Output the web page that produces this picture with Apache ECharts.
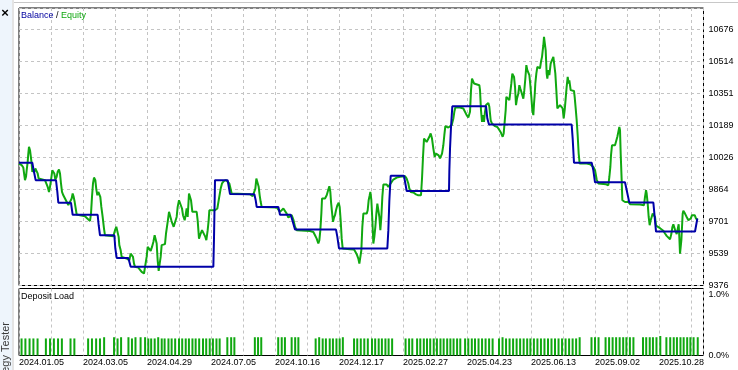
<!DOCTYPE html>
<html><head><meta charset="utf-8">
<script src="https://cdn.jsdelivr.net/npm/echarts@6/dist/echarts.min.js"></script>
<style>html,body{margin:0;padding:0;background:#fff}#c{width:738px;height:370px}</style>
</head><body><div id="c"></div>
<script>
// x = deal index, y = account value
const dateLabels = ['2024.01.05','2024.03.05','2024.04.29','2024.07.05','2024.10.16','2024.12.17','2025.02.27','2025.04.23','2025.06.13','2025.09.02','2025.10.28'];

const balance = [[0,9999],[4.16,9999],[4.48,9970],[4.79,9945],[5.2,9911],[11.56,9911],[11.98,9851],[12.29,9796],[16.25,9796],[16.77,9735],[24.58,9735],[24.9,9682],[25.31,9631],[29.79,9631],[30.1,9564],[30.52,9516],[34.17,9516],[34.9,9471],[60.73,9471],[60.94,9618],[61.25,9911],[65.2,9911],[65.94,9840],
[73.54,9839],[73.96,9809],[74.27,9775],[81.04,9775],[81.56,9735],[84.9,9735],[85.42,9707],[86.25,9660],[99.06,9660],[99.48,9623],[100.0,9564],[115.1,9564],[115.42,9657],[115.73,9806],[116.15,9933],[120.3,9933],[120.73,9894],[121.15,9856],[134.37,9856],[134.48,9958],[134.69,10071],[135.0,10181],[135.41,10286],[145.94,10286],[146.35,10224],[146.87,10193],[172.7,10193],[173.02,10122],[173.43,9999],[178.96,9999],[179.48,9961],[180.0,9900],[189.37,9900],[190.72,9797],[198.23,9797],[199.06,9650],[211.25,9650],[211.98,9716]];

const equity = [[0,9995],[0.83,9987],[1.35,9975],[1.56,9948],[1.87,9911],[2.19,9928],[2.39,9961],[2.71,10004],[2.91,10046],[3.12,10080],[3.44,10063],[3.64,10038],[3.96,9995],[4.16,9953],[4.48,9965],[4.79,9953],[5.10,9970],[5.52,9961],[5.83,9945],[6.14,9919],[6.56,9911],[8.12,9911],[8.64,9902],[8.96,9877],[9.37,9851],[9.69,9877],[10.00,9911],[10.41,9961],[10.73,9970],[11.04,9945],[11.35,9914],[11.77,9928],[12.08,9953],[12.50,9965],[12.81,9945],[13.12,9894],[13.44,9851],[13.85,9834],[14.89,9801],[15.41,9784],[15.94,9792],[16.46,9818],[16.77,9843],[17.08,9826],[17.39,9801],[17.81,9758],[18.02,9736],[19.06,9733],[20.62,9728],[21.35,9716],[22.19,9704],[22.50,9741],[22.81,9826],[23.12,9894],[23.44,9924],[23.85,9911],[24.17,9863],[24.48,9834],[24.79,9851],[25.10,9843],[25.41,9826],[25.73,9775],[26.14,9724],[26.56,9665],[26.87,9631],[29.48,9626],[30.00,9657],[30.41,9674],[30.83,9665],[31.14,9623],[31.35,9581],[31.77,9555],[32.08,9521],[33.64,9513],[34.48,9504],[34.89,9538],[35.31,9542],[35.62,9521],[35.94,9487],[36.25,9471],[37.29,9467],[38.33,9445],[39.06,9437],[39.58,9428],[39.89,9521],[40.21,9572],[40.62,9569],[41.15,9552],[41.56,9572],[41.98,9597],[42.39,9631],[42.71,9636],[43.02,9589],[43.33,9504],[43.65,9450],[43.96,9487],[44.27,9521],[44.58,9581],[45.10,9581],[45.62,9586],[45.94,9640],[46.46,9699],[46.88,9750],[47.29,9741],[47.60,9707],[47.92,9691],[48.33,9674],[48.85,9677],[49.27,9724],[49.58,9775],[50.00,9809],[50.42,9801],[50.94,9767],[51.25,9733],[51.77,9707],[52.08,9733],[52.39,9767],[52.71,9724],[53.12,9843],[53.44,9851],[53.75,9809],[54.17,9750],[54.69,9750],[55.52,9750],[55.83,9707],[56.25,9614],[56.77,9640],[57.19,9657],[57.50,9665],[57.81,9648],[58.23,9623],[58.54,9606],[58.96,9657],[59.27,9707],[59.48,9758],[60.21,9758],[60.73,9750],[61.25,9758],[61.77,9758],[61.98,9767],[62.50,9818],[63.02,9868],[63.44,9894],[64.06,9907],[64.69,9911],[65.21,9907],[65.73,9894],[66.46,9843],
[72.19,9839],[73.02,9829],[73.54,9826],[73.86,9868],[74.17,9919],[74.59,9911],[74.90,9877],[75.21,9834],[75.52,9801],[75.84,9775],[80.52,9772],[81.04,9767],[81.56,9750],[82.09,9758],[82.61,9767],[83.13,9762],[83.65,9741],[84.17,9721],[84.69,9724],[85.21,9733],[85.73,9711],[86.25,9674],[86.77,9657],[90.94,9653],[91.98,9648],[92.50,9631],[93.02,9614],[93.54,9589],[93.86,9606],[94.17,9657],[94.48,9741],[94.69,9818],[95.11,9826],[95.63,9818],[96.15,9834],[96.67,9863],[96.98,9880],[97.29,9851],[97.50,9801],[97.81,9750],[98.13,9699],[98.44,9721],[98.75,9733],[99.06,9758],[99.48,9784],[99.90,9796],[100.21,9775],[100.52,9707],[100.84,9614],[101.15,9564],[103.44,9560],[104.69,9559],[105.11,9547],[105.52,9535],[106.04,9513],[106.36,9487],[106.67,9496],[106.98,9555],[107.29,9674],[107.61,9741],[108.65,9741],[108.96,9758],[109.27,9809],[109.59,9834],[109.80,9851],[110.11,9809],[110.42,9707],[110.73,9589],[111.04,9623],[111.35,9674],[111.67,9741],[111.98,9792],[112.29,9758],[112.61,9724],[112.92,9657],[113.23,9724],[113.54,9826],[113.86,9889],[114.90,9889],[115.42,9877],[115.94,9885],[116.46,9902],[116.98,9914],[118.02,9924],
[119.06,9928],[120.62,9931],[121.14,9919],[121.66,9894],[121.98,9868],[122.39,9851],[123.23,9848],[124.06,9839],[124.79,9834],[125.31,9826],[125.62,9834],[125.94,9919],[126.25,10029],[126.56,10122],[126.98,10127],[127.39,10105],[127.81,10097],[128.23,10131],[128.64,10148],[129.06,10122],[129.48,10071],[129.89,10029],[130.31,10046],[130.73,10054],[131.14,10037],[131.56,10021],[131.87,10012],[132.19,10046],[132.60,10088],[132.91,10139],[133.23,10185],[133.64,10185],[134.16,10178],[134.69,10178],[135.21,10190],[135.73,10224],[136.04,10258],[136.35,10280],[137.81,10280],[138.85,10275],[139.37,10258],[139.89,10241],[140.41,10229],[140.94,10258],[141.25,10368],[141.56,10427],[141.87,10418],[142.19,10402],[142.50,10393],[143.85,10393],[144.06,10368],[144.37,10266],[144.69,10207],[145.00,10241],[145.31,10207],[145.62,10258],[145.94,10292],[146.25,10300],[146.66,10303],[146.98,10283],[147.39,10215],[147.81,10198],[148.75,10185],[149.48,10181],[150.00,10168],[150.62,10151],[151.14,10131],[151.46,10148],[151.77,10207],[152.08,10266],[152.29,10334],[152.71,10337],[153.23,10317],[153.54,10359],[153.85,10402],[154.16,10452],[154.48,10461],[154.69,10435],[155.00,10385],[155.31,10292],[155.62,10325],[156.04,10351],[156.35,10393],[156.66,10376],[156.98,10368],[157.29,10342],[157.60,10325],[157.91,10368],[158.23,10427],[158.54,10495],[158.85,10469],[159.16,10461],[159.48,10444],[159.79,10393],[160.10,10334],[160.41,10266],[160.73,10241],[160.94,10300],[161.14,10342],[161.35,10402],[161.66,10452],[161.98,10486],[162.60,10486],[162.81,10478],[163.12,10512],[163.44,10537],[163.64,10567],[163.85,10596],[164.06,10639],[164.37,10647],[164.58,10571],[164.89,10452],[165.10,10427],[165.41,10469],[165.73,10444],[166.14,10503],[166.46,10517],[166.98,10537],[167.29,10529],[167.60,10452],[167.91,10368],[168.23,10275],[168.64,10283],[169.06,10292],[169.58,10300],[169.89,10275],[170.21,10224],[170.52,10266],[170.83,10325],[171.14,10385],[171.46,10435],[171.77,10402],[171.98,10418],[172.39,10368],[173.43,10364],[173.64,10334],[173.96,10275],[174.27,10215],[174.58,10139],[174.89,10046],[175.21,9995],[177.39,9995],[178.44,9992],[179.06,9992],[179.48,9978],[180.00,9961],[180.52,9914],[181.04,9894],[183.44,9890],[184.17,9885],[184.48,9927],[184.79,9978],[185.00,10038],[185.31,10088],[186.25,10088],[186.77,10097],[186.98,10131],[187.29,10156],[187.60,10181],[187.81,10165],[188.02,10046],[188.33,9911],[188.54,9809],
[189.37,9800],[190.41,9800],[190.94,9789],[194.06,9787],[195.31,9784],[195.62,9826],[195.94,9860],[196.14,9843],[196.46,9792],[196.77,9724],[197.08,9682],[197.39,9707],[197.71,9724],[198.02,9741],[198.44,9750],[198.75,9724],[199.06,9680],[199.37,9671],[200.31,9667],[200.83,9662],[201.35,9654],[201.87,9640],[202.39,9628],[202.92,9620],[203.44,9611],[203.85,9637],[204.16,9671],[204.48,9687],[204.79,9679],[205.10,9654],[205.52,9637],[205.94,9671],[206.14,9687],[206.35,9620],[206.56,9538],[206.77,9530],[206.98,9606],[207.19,9674],[207.39,9741],[207.60,9755],[208.12,9741],[208.64,9724],[209.17,9707],[209.48,9699],[209.90,9716],[210.31,9733],[210.73,9741],[211.15,9733],[211.56,9716],[212.0,9712]];

// deposit load, percent, per deal index
const depositLoad = [[0.8,0.28],[2.0,0.28],[3.3,0.28],[4.5,0.28],[5.8,0.28],[8.4,0.28],[9.7,0.28],[10.9,0.28],[12.2,0.28],[13.4,0.28],[16.1,0.28],[17.3,0.28],[21.6,0.28],[22.8,0.28],[24.1,0.28],[25.3,0.28],[26.6,0.30],[29.7,0.30],[30.8,0.28],[31.9,0.30],[34.2,0.30],[35.3,0.28],[36.4,0.30],[38.0,0.30],[39.4,0.30],[40.4,0.28],[41.3,0.28],[42.4,0.28],[43.5,0.30],[44.6,0.28],[45.5,0.28],[46.7,0.28],[47.7,0.28],[48.8,0.28],[50.0,0.28],[51.0,0.28],[52.1,0.28],[53.1,0.28],[54.2,0.28],[55.2,0.28],[56.3,0.28],[57.5,0.28],[58.5,0.28],[59.6,0.28],[60.6,0.28],[61.7,0.28],[62.7,0.28],[65.1,0.30],[66.3,0.30],[67.3,0.30],[73.7,0.30],[74.7,0.30],[75.7,0.30],[81.0,0.30],[82.1,0.30],[83.1,0.30],[85.2,0.30],[86.3,0.30],[87.3,0.30],[92.7,0.28],[93.8,0.30],[94.9,0.28],[95.9,0.28],[97.1,0.28],[98.1,0.28],[99.2,0.28],[100.2,0.28],[101.2,0.30],[104.7,0.28],[105.7,0.28],[106.8,0.28],[107.9,0.28],[109.0,0.28],[110.3,0.28],[111.3,0.28],[112.4,0.28],[113.4,0.28],[114.5,0.28],[115.5,0.28],[116.6,0.28],[120.8,0.28],[121.9,0.28],[122.9,0.28],[124.4,0.28],[125.4,0.28],[126.5,0.28],[127.5,0.28],[128.5,0.28],[129.6,0.28],[130.6,0.28],[131.7,0.28],[132.7,0.28],[133.8,0.28],[134.8,0.28],[135.8,0.28],[136.9,0.28],[137.9,0.28],[139.4,0.28],[140.4,0.28],[141.5,0.28],[142.5,0.28],[143.6,0.28],[144.7,0.28],[145.8,0.28],[146.9,0.28],[148.0,0.28],[150.0,0.28],[151.1,0.30],[152.2,0.28],[153.3,0.28],[154.4,0.28],[155.5,0.28],[156.6,0.28],[157.7,0.28],[158.8,0.28],[159.8,0.28],[160.9,0.28],[162.0,0.28],[163.1,0.28],[164.2,0.28],[165.3,0.28],[166.4,0.28],[167.5,0.28],[168.6,0.28],[169.7,0.28],[170.8,0.28],[171.9,0.28],[173.0,0.28],[174.1,0.28],[175.2,0.30],[178.9,0.30],[180.0,0.30],[181.1,0.30],[183.3,0.30],[184.4,0.30],[185.5,0.30],[186.6,0.30],[187.7,0.30],[188.8,0.30],[189.8,0.30],[190.9,0.30],[192.0,0.30],[195.0,0.30],[196.0,0.30],[197.1,0.30],[198.1,0.30],[199.2,0.30],[200.4,0.32],[202.3,0.30],[203.5,0.30],[204.6,0.30],[205.6,0.30],[206.7,0.30],[207.7,0.30],[208.8,0.30],[209.8,0.30],[210.8,0.30],[212.1,0.30]];

const F = 'Liberation Sans';
const X_MAX = 213.9;
const gridDash = {show:true, lineStyle:{color:'#c4c4c4', width:1, type:[3,3]}};
const chart = echarts.init(document.getElementById('c'));
chart.setOption({
  animation:false,
  backgroundColor:'#ffffff',
  title:[
    {text:'{b|Balance} / {e|Equity}', left:21, top:11.5, padding:0,
     textStyle:{fontFamily:F, fontSize:9, fontWeight:'normal', color:'#000',
       rich:{b:{color:'#0000a0', fontFamily:F, fontSize:9}, e:{color:'#10a810', fontFamily:F, fontSize:9}}}},
    {text:'Deposit Load', left:21, top:292, padding:0,
     textStyle:{fontFamily:F, fontSize:9, fontWeight:'normal', color:'#000'}}
  ],
  grid:[
    {left:19, top:8, width:684.5, height:277.5, show:true, borderColor:'#000', borderWidth:1},
    {left:19, top:288.5, width:684.5, height:67, show:true, borderColor:'#000', borderWidth:1}
  ],
  xAxis:[
    {gridIndex:0, type:'value', min:0, max:X_MAX, interval:10,
     axisLine:{show:false}, axisTick:{show:false}, axisLabel:{show:false}, splitLine:gridDash},
    {gridIndex:1, type:'value', min:0, max:X_MAX, interval:10,
     axisLine:{show:false}, axisTick:{show:false}, splitLine:gridDash,
     axisLabel:{show:true, showMaxLabel:false, align:'left', margin:3, color:'#000', fontFamily:F, fontSize:9,
       formatter:function(v){const k=v/20; return Math.abs(k-Math.round(k))<1e-6 ? (dateLabels[Math.round(k)]||'') : '';}}}
  ],
  yAxis:[
    {gridIndex:0, type:'value', position:'right', min:9376, max:10785, interval:162.5,
     axisLine:{show:false}, axisTick:{show:false}, splitLine:gridDash,
     axisLabel:{showMaxLabel:false, margin:5, color:'#000', fontFamily:F, fontSize:9,
       formatter:function(v){return String(Math.round(v));}}},
    {gridIndex:1, type:'value', position:'right', min:0, max:1.1, interval:1,
     axisLine:{show:false}, axisTick:{show:false}, splitLine:{show:false},
     axisLabel:{showMaxLabel:false, margin:5, color:'#000', fontFamily:F, fontSize:9,
       formatter:function(v){return v.toFixed(1)+'%';}}}
  ],
  series:[
    {name:'Equity', type:'line', xAxisIndex:0, yAxisIndex:0, data:equity, symbol:'none',
     lineStyle:{color:'#10a810', width:2}, z:3},
    {name:'Balance', type:'line', xAxisIndex:0, yAxisIndex:0, data:balance, symbol:'none',
     lineStyle:{color:'#0000a8', width:2}, z:4},
    {name:'Deposit Load', type:'bar', xAxisIndex:1, yAxisIndex:1, data:depositLoad, barWidth:2,
     itemStyle:{color:'#10a810'}, z:3}
  ],
  graphic:[
    {type:'rect', shape:{x:0, y:0, width:12, height:370}, style:{fill:'#eef5fc'}, z:10},
    {type:'rect', shape:{x:12, y:0, width:2, height:370}, style:{fill:'#e4e4e4'}, z:10},
    {type:'rect', shape:{x:14, y:2, width:724, height:1}, style:{fill:'#c8c8c8'}, z:10},
    {type:'text', x:5, y:13, style:{text:'×', font:'bold 13px '+F, fill:'#000', align:'center', verticalAlign:'middle'}, z:11},
    {type:'text', x:6, y:359, rotation:Math.PI/2, style:{text:'Strategy Tester', font:'11px '+F, fill:'#3a3a3a', align:'center', verticalAlign:'middle'}, z:11}
  ]
});
</script></body></html>
